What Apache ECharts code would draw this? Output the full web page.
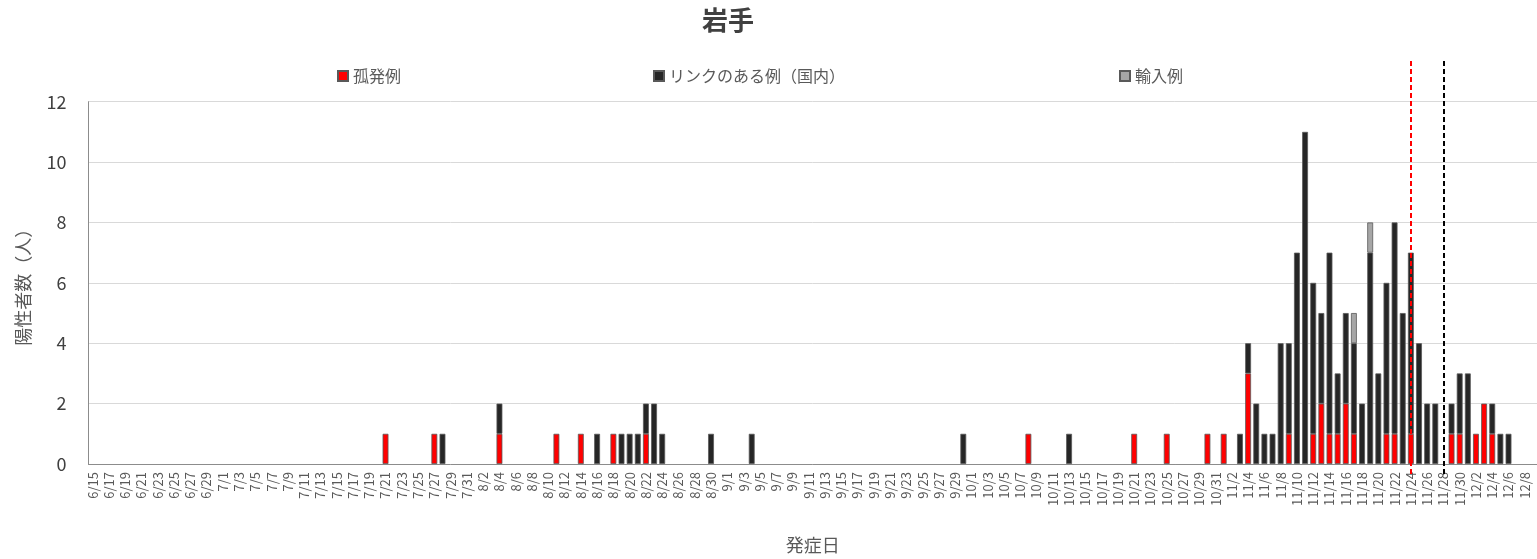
<!DOCTYPE html>
<html>
<head>
<meta charset="utf-8">
<title>岩手</title>
<script src="https://cdn.jsdelivr.net/npm/echarts@6/dist/echarts.min.js"></script>
<style>
  html, body { margin: 0; padding: 0; background: #fff; }
  #chart { width: 1537px; height: 559px; }
</style>
</head>
<body>
<div id="chart"></div>
<script>
// 発症日（6/15〜12/9）
var dates = [
  '6/15','6/16','6/17','6/18','6/19','6/20','6/21','6/22','6/23','6/24','6/25','6/26','6/27','6/28','6/29','6/30',
  '7/1','7/2','7/3','7/4','7/5','7/6','7/7','7/8','7/9','7/10','7/11','7/12','7/13','7/14','7/15','7/16',
  '7/17','7/18','7/19','7/20','7/21','7/22','7/23','7/24','7/25','7/26','7/27','7/28','7/29','7/30','7/31',
  '8/1','8/2','8/3','8/4','8/5','8/6','8/7','8/8','8/9','8/10','8/11','8/12','8/13','8/14','8/15','8/16',
  '8/17','8/18','8/19','8/20','8/21','8/22','8/23','8/24','8/25','8/26','8/27','8/28','8/29','8/30','8/31',
  '9/1','9/2','9/3','9/4','9/5','9/6','9/7','9/8','9/9','9/10','9/11','9/12','9/13','9/14','9/15',
  '9/16','9/17','9/18','9/19','9/20','9/21','9/22','9/23','9/24','9/25','9/26','9/27','9/28','9/29','9/30',
  '10/1','10/2','10/3','10/4','10/5','10/6','10/7','10/8','10/9','10/10','10/11','10/12','10/13','10/14','10/15','10/16',
  '10/17','10/18','10/19','10/20','10/21','10/22','10/23','10/24','10/25','10/26','10/27','10/28','10/29','10/30','10/31',
  '11/1','11/2','11/3','11/4','11/5','11/6','11/7','11/8','11/9','11/10','11/11','11/12','11/13','11/14','11/15',
  '11/16','11/17','11/18','11/19','11/20','11/21','11/22','11/23','11/24','11/25','11/26','11/27','11/28','11/29','11/30',
  '12/1','12/2','12/3','12/4','12/5','12/6','12/7','12/8','12/9'
];

// 孤発例
var isolated = [
  ['7/21',1],['7/27',1],['8/4',1],['8/11',1],['8/14',1],['8/18',1],['8/22',1],
  ['10/8',1],['10/21',1],['10/25',1],['10/30',1],['11/1',1],['11/4',3],['11/9',1],
  ['11/12',1],['11/13',2],['11/14',1],['11/15',1],['11/16',2],['11/17',1],['11/21',1],
  ['11/22',1],['11/24',1],['11/29',1],['11/30',1],['12/2',1],['12/3',2],['12/4',1]
];

// リンクのある例（国内）
var linked = [
  ['7/28',1],['8/4',1],['8/16',1],['8/19',1],['8/20',1],['8/21',1],['8/22',1],['8/23',2],
  ['8/24',1],['8/30',1],['9/4',1],['9/30',1],['10/13',1],['11/3',1],['11/4',1],['11/5',2],
  ['11/6',1],['11/7',1],['11/8',4],['11/9',3],['11/10',7],['11/11',11],['11/12',5],['11/13',3],
  ['11/14',6],['11/15',2],['11/16',3],['11/17',3],['11/18',2],['11/19',7],['11/20',3],['11/21',5],
  ['11/22',7],['11/23',5],['11/24',6],['11/25',4],['11/26',2],['11/27',2],['11/29',1],['11/30',2],
  ['12/1',3],['12/4',1],['12/5',1],['12/6',1]
];

// 輸入例
var imported = [['11/17',1],['11/19',1]];

// 縦の破線
var markDates = ['11/24', '11/28'];
var markColors = ['#ff0000', '#000000'];

var yTicks = [0, 2, 4, 6, 8, 10, 12];

function toSeries(pairs) {
  var arr = dates.map(function () { return null; });
  pairs.forEach(function (p) {
    arr[dates.indexOf(p[0])] = p[1];
  });
  return arr;
}

var font = '"Noto Sans CJK JP", "Noto Sans", sans-serif';
var chart = echarts.init(document.getElementById('chart'));

var barStyle = function (color) {
  return { color: color, borderColor: '#595959', borderWidth: 0.8 };
};

var legendBase = {
  top: 63, itemWidth: 10, itemHeight: 10, itemGap: 6,
  icon: 'rect',
  textStyle: { fontFamily: font, fontSize: 16, color: '#595959' }
};

chart.setOption({
  animation: false,
  textStyle: { fontFamily: font },
  title: {
    text: '岩手', left: 697, top: 2,
    textStyle: { fontFamily: font, fontSize: 26, fontWeight: 'bold', color: '#404040' }
  },
  legend: [
    Object.assign({ left: 332, data: ['孤発例'] }, legendBase),
    Object.assign({ left: 648, data: ['リンクのある例（国内）'] }, legendBase),
    Object.assign({ left: 1114, data: ['輸入例'] }, legendBase)
  ],
  grid: [
    { left: 88.5, right: 0, top: 101.7, bottom: 90 },
    { left: 88.5, right: 0, top: 58, bottom: 85 }
  ],
  xAxis: [{
    type: 'category', data: dates, gridIndex: 0,
    axisLine: { lineStyle: { color: '#8c8c8c', width: 1 } },
    axisTick: { interval: 1, length: 5, lineStyle: { color: '#8c8c8c' } },
    axisLabel: { interval: 1, rotate: 90, margin: 8, fontSize: 13, color: '#595959', fontFamily: font },
    name: '発症日', nameLocation: 'middle', nameGap: 72,
    nameTextStyle: { fontSize: 18, color: '#595959', fontFamily: font }
  }, {
    type: 'category', data: dates, gridIndex: 1, show: false
  }],
  yAxis: [{
    type: 'value', min: yTicks[0], max: yTicks[yTicks.length - 1], interval: 2, gridIndex: 0,
    axisLine: { show: true, lineStyle: { color: '#8c8c8c', width: 1 } },
    axisTick: { show: false },
    splitLine: { lineStyle: { color: '#d9d9d9', width: 1 } },
    axisLabel: { fontSize: 18, color: '#404040', margin: 22, fontFamily: font },
    name: '陽性者数（人）', nameLocation: 'middle', nameGap: 56,
    nameTextStyle: { fontSize: 18, color: '#595959', fontFamily: font }
  }, {
    type: 'value', min: 0, max: 1, gridIndex: 1, show: false
  }],
  series: [{
    name: '孤発例', type: 'bar', stack: 'total', barCategoryGap: '28%',
    itemStyle: barStyle('#ff0000'), data: toSeries(isolated)
  }, {
    name: 'リンクのある例（国内）', type: 'bar', stack: 'total', barCategoryGap: '28%',
    itemStyle: barStyle('#262626'), data: toSeries(linked)
  }, {
    name: '輸入例', type: 'bar', stack: 'total', barCategoryGap: '28%',
    itemStyle: barStyle('#a6a6a6'), data: toSeries(imported)
  }, {
    name: 'marks', type: 'line', xAxisIndex: 1, yAxisIndex: 1,
    data: dates.map(function () { return null; }), showSymbol: false, silent: true,
    markLine: {
      silent: true, symbol: ['none', 'none'], z: 10,
      label: { show: false },
      data: markDates.map(function (d, i) {
        return { xAxis: d, lineStyle: { color: markColors[i], type: [5, 3], width: 2 } };
      })
    }
  }]
});
</script>
</body>
</html>
